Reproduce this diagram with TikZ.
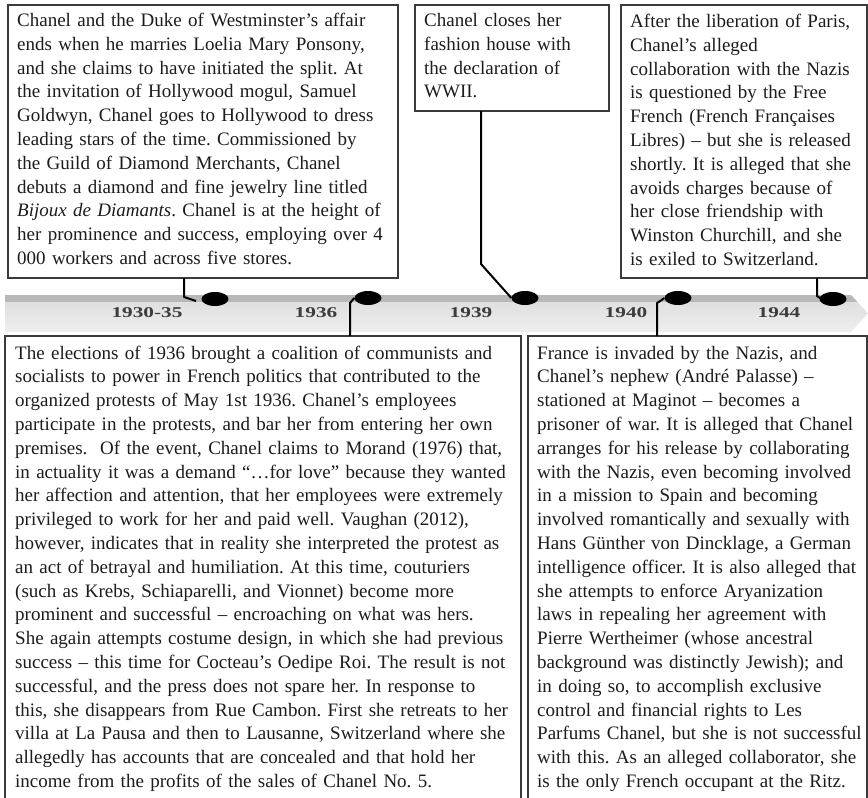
\documentclass[tikz,border=0pt]{standalone}
\usepackage{fontspec}
\setmainfont{Liberation Serif}
\usetikzlibrary{shapes.geometric}
\definecolor{framecol}{HTML}{3A3A3A}
\definecolor{txtcol}{HTML}{1C1C1C}
\definecolor{barlight}{HTML}{DCDCDC}
\definecolor{barlighter}{HTML}{EEEEEE}
\definecolor{bardark}{HTML}{B8B8B8}
\definecolor{yearcol}{HTML}{3C3C3C}
\tikzset{
  framebox/.style={draw=framecol, line width=1.4pt, inner sep=0pt, outer sep=0pt, anchor=north west},
  txt/.style={anchor=base west, inner sep=0pt, align=left, text=txtcol,
    font=\fontsize{19pt}{23.8pt}\selectfont\frenchspacing},
  dotnode/.style={ellipse, fill=black, draw=none, minimum width=27pt, minimum height=14pt, inner sep=0pt},
  conn/.style={draw=black, line width=2pt, line join=round},
  yearlab/.style={text=yearcol, inner sep=0pt, font=\fontsize{15pt}{18pt}\selectfont\bfseries},
}
\newcommand{\yr}[1]{\scalebox{1.42}[1]{#1}}
\begin{document}
\begin{tikzpicture}[x=1pt,y=-1pt]
\useasboundingbox (0,0) rectangle (868,798);
\fill[white] (0,0) rectangle (868,798);

% timeline bar
\begin{scope}
  \clip (5,295) -- (851,295) -- (868,313.5) -- (851,332) -- (5,332) -- cycle;
  \shade[top color=barlight, bottom color=barlighter] (0,295) rectangle (868,332);
  \fill[bardark] (0,294) rectangle (868,302);
\end{scope}

% boxes
\node[framebox, minimum width=390pt, minimum height=273pt] (tlbox) at (8,5) {};
\node[framebox, minimum width=194pt, minimum height=106pt] (tmbox) at (415,5) {};
\node[framebox, minimum width=246pt, minimum height=273pt] (trbox) at (621,5) {};
\node[framebox, minimum width=516pt, minimum height=470pt] (blbox) at (5,336) {};
\node[framebox, minimum width=339pt, minimum height=470pt] (brbox) at (528,336) {};

% texts
\node[txt, text width=385pt] (tltext) at (17,26.5) {Chanel and the Duke of Westminster’s affair\\
ends when he marries Loelia Mary Ponsony,\\
and she claims to have initiated the split. At\\
the invitation of Hollywood mogul, Samuel\\
Goldwyn, Chanel goes to Hollywood to dress\\
leading stars of the time. Commissioned by\\
the Guild of Diamond Merchants, Chanel\\
debuts a diamond and fine jewelry line titled\\
\textit{Bijoux de Diamants}. Chanel is at the height of\\
her prominence and success, employing over 4\\
000 workers and across five stores.};

\node[txt, text width=190pt] (tmtext) at (424,26.5) {Chanel closes her\\
fashion house with\\
the declaration of\\
WWII.};

\node[txt, text width=250pt] (trtext) at (630,27.5) {After the liberation of Paris,\\
Chanel’s alleged\\
collaboration with the Nazis\\
is questioned by the Free\\
French (French Françaises\\
Libres) – but she is released\\
shortly. It is alleged that she\\
avoids charges because of\\
her close friendship with\\
Winston Churchill, and she\\
is exiled to Switzerland.};

\node[txt, text width=520pt] (bltext) at (15,359) {The elections of 1936 brought a coalition of communists and\\
socialists to power in French politics that contributed to the\\
organized protests of May 1st 1936. Chanel’s employees\\
participate in the protests, and bar her from entering her own\\
premises.~ Of the event, Chanel claims to Morand (1976) that,\\
in actuality it was a demand “…for love” because they wanted\\
her affection and attention, that her employees were extremely\\
privileged to work for her and paid well. Vaughan (2012),\\
however, indicates that in reality she interpreted the protest as\\
an act of betrayal and humiliation. At this time, couturiers\\
(such as Krebs, Schiaparelli, and Vionnet) become more\\
prominent and successful – encroaching on what was hers.\\
She again attempts costume design, in which she had previous\\
success – this time for Cocteau’s Oedipe Roi. The result is not\\
successful, and the press does not spare her. In response to\\
this, she disappears from Rue Cambon. First she retreats to her\\
villa at La Pausa and then to Lausanne, Switzerland where she\\
allegedly has accounts that are concealed and that hold her\\
income from the profits of the sales of Chanel No. 5.};

\node[txt, text width=340pt] (brtext) at (537,359) {France is invaded by the Nazis, and\\
Chanel’s nephew (André Palasse) –\\
stationed at Maginot – becomes a\\
prisoner of war. It is alleged that Chanel\\
arranges for his release by collaborating\\
with the Nazis, even becoming involved\\
in a mission to Spain and becoming\\
involved romantically and sexually with\\
Hans Günther von Dincklage, a German\\
intelligence officer. It is also alleged that\\
she attempts to enforce Aryanization\\
laws in repealing her agreement with\\
Pierre Wertheimer (whose ancestral\\
background was distinctly Jewish); and\\
in doing so, to accomplish exclusive\\
control and financial rights to Les\\
Parfums Chanel, but she is not successful\\
with this. As an alleged collaborator, she\\
is the only French occupant at the Ritz.};

% year labels
\node[yearlab] (y1) at (147,313) {\yr{1930-35}};
\node[yearlab] (y2) at (316,313) {\yr{1936}};
\node[yearlab] (y3) at (471,313) {\yr{1939}};
\node[yearlab] (y4) at (626,313) {\yr{1940}};
\node[yearlab] (y5) at (779,313) {\yr{1944}};

% dots
\node[dotnode] (d1) at (215,299) {};
\node[dotnode] (d2) at (368,298) {};
\node[dotnode] (d3) at (525,298) {};
\node[dotnode] (d4) at (678,298) {};
\node[dotnode] (d5) at (833,299) {};

% connector helper coordinates
\coordinate (k1) at (184,297);
\coordinate (e1) at (196,301);
\coordinate (k2) at (350,303);
\coordinate (k3) at (481,264);
\coordinate (k4) at (657,303);
\coordinate (m4) at (661,300.5);
\coordinate (k5) at (817,296);
\coordinate (e5) at (824,300.5);

% connectors
\draw[conn] (tlbox.south -| k1) -- (k1) -- (e1);
\draw[conn] (blbox.north -| k2) -- (k2) -- (d2.west);
\draw[conn] (tmbox.south -| k3) -- (k3) -- (d3.west);
\draw[conn] (brbox.north -| k4) -- (k4) -- (m4) -- (d4.west);
\draw[conn] (trbox.south -| k5) -- (k5) -- (e5);
\end{tikzpicture}
\end{document}
